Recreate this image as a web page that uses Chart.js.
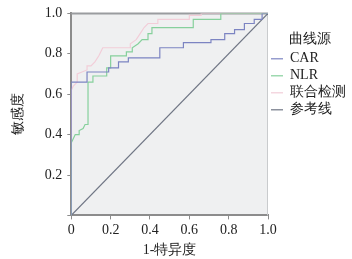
<!DOCTYPE html>
<html>
<head>
<meta charset="utf-8">
<script src="https://cdn.jsdelivr.net/npm/chart.js@4/dist/chart.umd.min.js"></script>
<style>
  html, body { margin: 0; padding: 0; background: #fff; }
  canvas { display: block; }
</style>
</head>
<body>
<canvas id="rocChart" width="352" height="259"></canvas>
<script>
// series (x = 1-特异度, y = 敏感度)
const seriesNames = ['CAR', 'NLR', '联合检测', '参考线'];

const carX = [0, 0, 0.08, 0.08, 0.19, 0.19, 0.24, 0.24, 0.29, 0.29, 0.45, 0.45, 0.57, 0.57, 0.71, 0.71, 0.78, 0.78, 0.83, 0.83, 0.88, 0.88, 0.93, 0.93, 0.97, 0.97, 1];
const carY = [0, 0.66, 0.66, 0.71, 0.71, 0.73, 0.73, 0.76, 0.76, 0.78, 0.78, 0.83, 0.83, 0.855, 0.855, 0.87, 0.87, 0.9, 0.9, 0.92, 0.92, 0.95, 0.95, 0.97, 0.97, 1, 1];

const nlrX = [0, 0, 0.01, 0.02, 0.04, 0.04, 0.06, 0.07, 0.085, 0.085, 0.11, 0.11, 0.18, 0.18, 0.2, 0.2, 0.28, 0.28, 0.31, 0.31, 0.34, 0.36, 0.39, 0.39, 0.41, 0.41, 0.62, 0.62, 0.76, 0.76, 1];
const nlrY = [0, 0.36, 0.38, 0.4, 0.4, 0.42, 0.43, 0.45, 0.45, 0.66, 0.66, 0.69, 0.69, 0.73, 0.73, 0.79, 0.79, 0.81, 0.81, 0.83, 0.85, 0.87, 0.87, 0.9, 0.9, 0.93, 0.93, 0.97, 0.97, 1, 1];

const combX = [0, 0, 0.01, 0.03, 0.03, 0.08, 0.08, 0.1, 0.12, 0.14, 0.16, 0.3, 0.3, 0.33, 0.35, 0.37, 0.39, 0.44, 0.44, 0.6, 0.6, 0.66, 0.66, 1];
const combY = [0, 0.62, 0.64, 0.66, 0.7, 0.72, 0.74, 0.74, 0.76, 0.79, 0.83, 0.83, 0.85, 0.87, 0.9, 0.93, 0.95, 0.95, 0.97, 0.97, 0.99, 0.99, 1, 1];

const refX = [0, 1];
const refY = [0, 1];

const xTickLabels = ['0', '0.2', '0.4', '0.6', '0.8', '1.0'];
const yTickLabels = ['', '0.2', '0.4', '0.6', '0.8', '1.0'];

const lineColors = ['#7c84c2', '#86d09c', '#f2cdd8', '#6f7584'];

const FONT = 'Liberation Serif';

const toPoints = (xs, ys) => xs.map((x, i) => ({ x, y: ys[i] }));

const seriesData = [
	toPoints(carX, carY),
	toPoints(nlrX, nlrY),
	toPoints(combX, combY),
	toPoints(refX, refY),
];

Chart.defaults.font.family = FONT;
Chart.defaults.font.size = 14;
Chart.defaults.color = '#222';

// light plot background plus the top/right frame lines
const plotFrame = {
	id: 'plotFrame',
	beforeDraw(chart) {
		const { ctx, chartArea: a } = chart;
		ctx.save();
		ctx.fillStyle = '#eff0f1';
		ctx.fillRect(a.left, a.top, a.width, a.height);
		ctx.restore();
	},
	beforeDatasetsDraw(chart) {
		const { ctx, chartArea: a } = chart;
		ctx.save();
		ctx.strokeStyle = '#9a9c9f';
		ctx.lineWidth = 2;
		ctx.beginPath();
		ctx.moveTo(a.left, a.top);
		ctx.lineTo(a.right, a.top);
		ctx.stroke();
		ctx.strokeStyle = '#c9cbcd';
		ctx.lineWidth = 1;
		ctx.beginPath();
		ctx.moveTo(a.right - 0.5, a.top);
		ctx.lineTo(a.right - 0.5, a.bottom);
		ctx.stroke();
		ctx.restore();
	},
};

new Chart(document.getElementById('rocChart'), {
	type: 'scatter',
	data: {
		datasets: seriesNames.map((name, i) => ({
			label: name,
			data: seriesData[i],
			showLine: true,
			borderColor: lineColors[i],
			backgroundColor: lineColors[i],
			borderWidth: 1.2,
			pointRadius: 0,
			pointHoverRadius: 0,
			tension: 0,
			fill: false,
		})),
	},
	options: {
		responsive: false,
		animation: false,
		layout: {
			padding: { top: 13, left: 0, right: 0, bottom: 0 },
		},
		scales: {
			x: {
				type: 'linear',
				min: 0,
				max: 1,
				ticks: {
					stepSize: 0.2,
					autoSkip: false,
					maxRotation: 0,
					padding: 3,
					font: { family: FONT, size: 14 },
					callback: (value, index) => xTickLabels[index],
				},
				grid: { drawOnChartArea: false, tickLength: 4, color: '#8c8c8c' },
				border: { color: '#8c8c8c', width: 2 },
				title: {
					display: true,
					text: '1-特异度',
					font: { family: FONT, size: 14 },
					padding: { top: 0, bottom: 0 },
				},
			},
			y: {
				type: 'linear',
				min: 0,
				max: 1,
				ticks: {
					stepSize: 0.2,
					autoSkip: false,
					padding: 5,
					font: { family: FONT, size: 14 },
					callback: (value, index) => yTickLabels[index],
				},
				grid: { drawOnChartArea: false, tickLength: 4, color: '#8c8c8c' },
				border: { color: '#8c8c8c', width: 2 },
				title: {
					display: true,
					text: '敏感度',
					font: { family: FONT, size: 14 },
					padding: { top: 10, bottom: 13 },
				},
			},
		},
		plugins: {
			tooltip: { enabled: false },
			legend: {
				position: 'right',
				align: 'start',
				maxWidth: 84,
				title: {
					display: true,
					text: '曲线源',
					position: 'center',
					font: { family: FONT, size: 14 },
					padding: { top: 19, bottom: 0 },
				},
				labels: {
					usePointStyle: true,
					pointStyle: 'line',
					pointStyleWidth: 12,
					padding: 3,
					font: { family: FONT, size: 14, lineHeight: 1 },
				},
			},
		},
	},
	plugins: [plotFrame],
});
</script>
</body>
</html>
